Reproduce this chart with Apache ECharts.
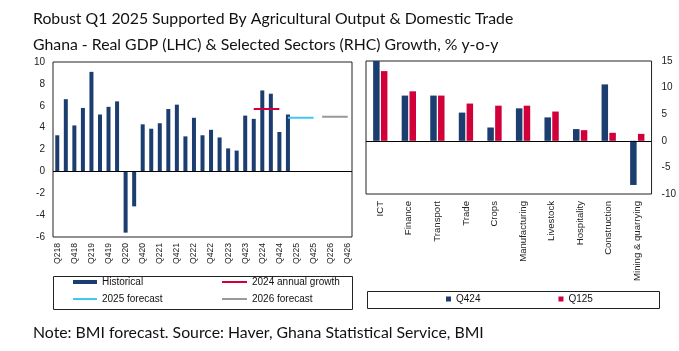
<!DOCTYPE html>
<html>
<head>
<meta charset="utf-8">
<script src="https://cdn.jsdelivr.net/npm/echarts@6/dist/echarts.min.js"></script>
<style>
html,body{margin:0;padding:0;background:#fff;}
#c{width:679px;height:351px;}
</style>
</head>
<body>
<div id="c"></div>
<script>
// ---- Left chart: Real GDP growth, % y-o-y ----
const quarters = ['Q218','Q318','Q418','Q119','Q219','Q319','Q419','Q120','Q220','Q320','Q420',
  'Q121','Q221','Q321','Q421','Q122','Q222','Q322','Q422','Q123','Q223','Q323','Q423',
  'Q124','Q224','Q324','Q424','Q125','Q225','Q325','Q425','Q126','Q226','Q326','Q426'];
const historical = [3.3,6.6,4.2,5.8,9.1,5.2,5.9,6.4,-5.6,-3.2,4.3,
  3.9,4.4,5.7,6.1,3.2,4.9,3.3,3.8,3.1,2.1,1.9,5.1,
  4.8,7.4,7.1,3.6,5.2];
const annual2024Value = 5.7;
const annual2024Quarters = ['Q124','Q224','Q324','Q424'];
const forecast2025Value = 4.9;
const forecast2025Quarters = ['Q125','Q225','Q325','Q425'];
const forecast2026Value = 5.0;
const forecast2026Quarters = ['Q126','Q226','Q326','Q426'];
const leftTicks = {min: -6, max: 10, interval: 2};

// ---- Right chart: Selected sectors growth ----
const sectors = ['ICT','Finance','Transport','Trade','Crops','Manufacturing','Livestock','Hospitality','Construction','Mining & quarrying'];
const q424 = [15.0, 8.5, 8.5, 5.3, 2.5, 6.1, 4.4, 2.2, 10.6, -8.3];
const q125 = [13.1, 9.3, 8.5, 7.0, 6.6, 6.6, 5.5, 2.0, 1.5, 1.3];
const rightTicks = {min: -10, max: 15, interval: 5};

const NAVY = '#1b3d6f', RED = '#d1003a', CYAN = '#3fc8f2', GREY = '#999999';
const FONT = 'Liberation Sans';
const spanData = (qs, v) => quarters.map(q => qs.includes(q) ? v : null);

const chart = echarts.init(document.getElementById('c'), null, {renderer: 'canvas'});
const zeroLine = {
  silent: true, symbol: 'none', label: {show: false},
  lineStyle: {color: '#000', width: 1, type: 'solid'},
  data: [{yAxis: 0}]
};
const lineSeries = (name, qs, v, color) => ({
  name, type: 'line', xAxisIndex: 0, yAxisIndex: 0,
  data: spanData(qs, v), showSymbol: false, symbol: 'none',
  lineStyle: {color, width: 2}, itemStyle: {color}, z: 5
});
const legendText = {fontFamily: FONT, fontSize: 10, color: '#111'};
const titleText = {fontFamily: 'Lato', fontSize: 15.8, fontWeight: 'normal', color: '#111'};

chart.setOption({
  animation: false,
  textStyle: {fontFamily: FONT},
  title: [
    {text: 'Robust Q1 2025 Supported By Agricultural Output & Domestic Trade', left: 28, top: 6, textStyle: titleText},
    {text: 'Ghana - Real GDP (LHC) & Selected Sectors (RHC) Growth, % y-o-y', left: 28, top: 32, textStyle: titleText},
    {text: 'Note: BMI forecast. Source: Haver, Ghana Statistical Service, BMI', left: 28, top: 320, textStyle: titleText}
  ],
  grid: [
    {left: 53, top: 62, width: 299, height: 175, show: true, borderColor: '#222', borderWidth: 1, backgroundColor: 'transparent'},
    {left: 366, top: 61, width: 294, height: 133, show: true, borderColor: '#222', borderWidth: 1, backgroundColor: 'transparent'}
  ],
  xAxis: [
    {type: 'category', gridIndex: 0, data: quarters, boundaryGap: true,
     axisLine: {show: false}, axisTick: {show: false},
     axisLabel: {interval: 1, rotate: 90, margin: 6, fontSize: 8.6, color: '#222', fontFamily: FONT}},
    {type: 'category', gridIndex: 1, data: sectors, boundaryGap: true,
     axisLine: {show: false}, axisTick: {show: false},
     axisLabel: {interval: 0, rotate: 90, margin: 7, fontSize: 9.6, color: '#222', fontFamily: FONT}}
  ],
  yAxis: [
    {type: 'value', gridIndex: 0, min: leftTicks.min, max: leftTicks.max, interval: leftTicks.interval,
     axisLine: {show: false}, axisTick: {show: false}, splitLine: {show: false},
     axisLabel: {margin: 8, fontSize: 10, color: '#222', fontFamily: FONT}},
    {type: 'value', gridIndex: 1, position: 'right', min: rightTicks.min, max: rightTicks.max, interval: rightTicks.interval,
     axisLine: {show: false}, axisTick: {show: false}, splitLine: {show: false},
     axisLabel: {margin: 10, fontSize: 10, color: '#222', fontFamily: FONT}}
  ],
  legend: [
    {data: ['Historical'], left: 73, top: 277, padding: 0, icon: 'rect', itemWidth: 24, itemHeight: 4, textStyle: legendText, selectedMode: false},
    {data: ['2024 annual growth'], left: 222, top: 277, padding: 0, icon: 'rect', itemWidth: 25, itemHeight: 2, textStyle: legendText, selectedMode: false},
    {data: ['2025 forecast'], left: 73, top: 294, padding: 0, icon: 'rect', itemWidth: 24, itemHeight: 2, textStyle: legendText, selectedMode: false},
    {data: ['2026 forecast'], left: 222, top: 294, padding: 0, icon: 'rect', itemWidth: 25, itemHeight: 2, textStyle: legendText, selectedMode: false},
    {data: ['Q424', 'Q125'], left: 446, top: 294, padding: 0, icon: 'rect', itemWidth: 5, itemHeight: 5, itemGap: 78, textStyle: legendText, selectedMode: false}
  ],
  graphic: [
    {type: 'rect', shape: {x: 53.5, y: 276.5, width: 299, height: 33}, style: {fill: 'none', stroke: '#222', lineWidth: 1}, silent: true},
    {type: 'rect', shape: {x: 367.5, y: 291.5, width: 292, height: 17}, style: {fill: 'none', stroke: '#222', lineWidth: 1}, silent: true}
  ],
  series: [
    {name: 'Historical', type: 'bar', xAxisIndex: 0, yAxisIndex: 0, data: historical, barWidth: 4,
     itemStyle: {color: NAVY}, markLine: zeroLine},
    lineSeries('2024 annual growth', annual2024Quarters, annual2024Value, RED),
    lineSeries('2025 forecast', forecast2025Quarters, forecast2025Value, CYAN),
    lineSeries('2026 forecast', forecast2026Quarters, forecast2026Value, GREY),
    {name: 'Q424', type: 'bar', xAxisIndex: 1, yAxisIndex: 1, data: q424, barWidth: 6.5, barGap: '20%',
     itemStyle: {color: NAVY}, markLine: zeroLine},
    {name: 'Q125', type: 'bar', xAxisIndex: 1, yAxisIndex: 1, data: q125, barWidth: 6.5, barGap: '20%',
     itemStyle: {color: RED}}
  ]
});
</script>
</body>
</html>
